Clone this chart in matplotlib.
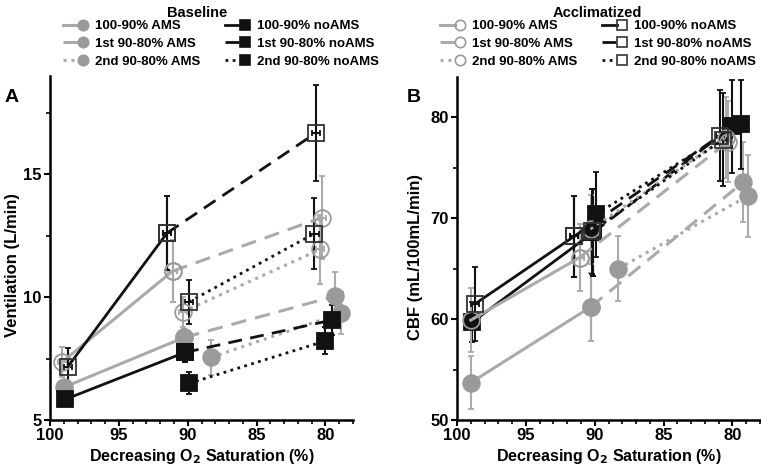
import matplotlib.pyplot as plt
from matplotlib.lines import Line2D
from matplotlib.legend_handler import HandlerBase
from matplotlib.ticker import MultipleLocator

plt.rcParams['font.family'] = ['Liberation Sans', 'DejaVu Sans']
plt.rcParams['font.weight'] = 'bold'

segments = ['100-90%', '1st 90-80%', '2nd 90-80%']

# Panel A: ventilation (L/min); each segment is [start, end] of O2 saturation
ve_base_ams_x = [[99.0, 90.25], [90.25, 79.3], [88.3, 78.9]]
ve_base_ams_y = [[6.33, 8.36], [8.36, 10.04], [7.55, 9.34]]
ve_base_ams_err = [[0.3, 0.35], [0.35, 1.0], [0.7, 0.85]]

ve_base_noams_x = [[98.9, 90.2], [90.2, 79.5], [89.9, 80.0]]
ve_base_noams_y = [[5.84, 7.75], [7.75, 9.07], [6.49, 8.22]]
ve_base_noams_err = [[0.25, 0.4], [0.4, 0.6], [0.45, 0.55]]

ve_accl_ams_x = [[99.1, 91.1], [91.1, 80.25], [90.35, 80.4]]
ve_accl_ams_y = [[7.37, 11.06], [11.06, 13.24], [9.40, 11.94]]
ve_accl_ams_err = [[0.6, 1.25], [1.25, 1.7], [0.6, 1.4]]

ve_accl_noams_x = [[98.7, 91.5], [91.5, 80.7], [89.9, 80.8]]
ve_accl_noams_y = [[7.17, 12.61], [12.61, 16.68], [9.81, 12.59]]
ve_accl_noams_err = [[0.75, 1.5], [1.5, 1.95], [0.9, 1.45]]

# Panel B: CBF (mL/100mL/min)
cbf_base_ams_x = [[99.0, 90.3], [90.3, 79.2], [88.3, 78.9]]
cbf_base_ams_y = [[53.7, 61.2], [61.2, 73.6], [65.0, 72.2]]
cbf_base_ams_err = [[2.65, 3.4], [3.4, 4.0], [3.2, 4.1]]

cbf_base_noams_x = [[98.9, 90.1], [90.1, 80.0], [89.9, 79.4]]
cbf_base_noams_y = [[59.7, 68.6], [68.6, 79.1], [70.4, 79.3]]
cbf_base_noams_err = [[2.0, 4.3], [4.3, 4.6], [4.2, 4.4]]

cbf_accl_ams_x = [[99.0, 91.1], [91.1, 80.3], [90.3, 80.5]]
cbf_accl_ams_y = [[59.9, 66.1], [66.1, 77.6], [68.9, 78.0]]
cbf_accl_ams_err = [[3.2, 3.3], [3.3, 4.0], [3.4, 4.0]]

cbf_accl_noams_x = [[98.7, 91.5], [91.5, 80.9], [90.2, 80.7]]
cbf_accl_noams_y = [[61.5, 68.2], [68.2, 78.2], [68.7, 77.8]]
cbf_accl_noams_err = [[3.7, 4.0], [4.0, 4.5], [4.2, 4.6]]

sat_xerr = 0.3

GREY_LINE = '#aaaaaa'
GREY_MARK = '#9a9a9a'
BLACK = '#111111'
linestyles = ['-', (0, (5, 3)), (0, (1, 1.6))]

styles = {
    'base_ams': dict(color=GREY_LINE, marker='o', ms=12, mfc=GREY_MARK, mec=GREY_MARK, lw=2.2),
    'base_noams': dict(color=BLACK, marker='s', ms=11, mfc=BLACK, mec=BLACK, lw=2.0),
    'accl_ams': dict(color=GREY_LINE, marker='o', ms=12, mfc='none', mec=GREY_MARK, lw=2.2),
    'accl_noams': dict(color=BLACK, marker='s', ms=11, mfc='none', mec='#333333', lw=2.0),
}


def draw_group(ax, xs, ys, errs, key):
    st = styles[key]
    for x, y, e, ls in zip(xs, ys, errs, linestyles):
        ax.errorbar(x, y, yerr=e, xerr=sat_xerr, color=st['color'], ls=ls, lw=st['lw'],
                    marker=st['marker'], ms=st['ms'], mfc=st['mfc'], mec=st['mec'],
                    mew=1.3, ecolor=st['color'], elinewidth=1.5, capsize=2, capthick=1.5)


class EndMarkerHandler(HandlerBase):
    # line with the marker only at its right end
    def create_artists(self, legend, orig, xd, yd, w, h, fs, trans):
        y = h / 2 - yd
        xm = -xd + w - 3
        r = orig.get_markersize() / 2
        line = Line2D([-xd, xm - r], [y, y])
        line.update_from(orig)
        line.set_marker('None')
        line.set_transform(trans)
        mk = Line2D([xm], [y])
        mk.update_from(orig)
        mk.set_linestyle('None')
        mk.set_transform(trans)
        return [line, mk]


fig = plt.figure(figsize=(7.61, 4.70), dpi=100)
axA = fig.add_axes([50 / 761, 50 / 470, 303 / 761, 344 / 470])
axB = fig.add_axes([457 / 761, 50 / 470, 303 / 761, 343 / 470])

draw_group(axA, ve_accl_ams_x, ve_accl_ams_y, ve_accl_ams_err, 'accl_ams')
draw_group(axA, ve_accl_noams_x, ve_accl_noams_y, ve_accl_noams_err, 'accl_noams')
draw_group(axA, ve_base_ams_x, ve_base_ams_y, ve_base_ams_err, 'base_ams')
draw_group(axA, ve_base_noams_x, ve_base_noams_y, ve_base_noams_err, 'base_noams')

draw_group(axB, cbf_base_ams_x, cbf_base_ams_y, cbf_base_ams_err, 'base_ams')
draw_group(axB, cbf_base_noams_x, cbf_base_noams_y, cbf_base_noams_err, 'base_noams')
draw_group(axB, cbf_accl_ams_x, cbf_accl_ams_y, cbf_accl_ams_err, 'accl_ams')
draw_group(axB, cbf_accl_noams_x, cbf_accl_noams_y, cbf_accl_noams_err, 'accl_noams')

for ax in (axA, axB):
    ax.set_xlim(100, 78)
    ax.set_xticks([100, 95, 90, 85, 80])
    ax.xaxis.set_minor_locator(MultipleLocator(1))
    for s in ('top', 'right'):
        ax.spines[s].set_visible(False)
    for s in ('left', 'bottom'):
        ax.spines[s].set_linewidth(1.8)
    ax.tick_params(which='major', direction='out', length=4, width=1.5, labelsize=12, pad=2)
    ax.tick_params(which='minor', direction='out', length=3, width=1.2)
    ax.set_xlabel('Decreasing O$_\\mathbf{2}$ Saturation (%)', fontsize=11.5, fontweight='bold', labelpad=3)

axA.set_ylim(5, 19)
axA.set_yticks([5, 10, 15])
axA.yaxis.set_minor_locator(MultipleLocator(2.5))
axA.set_ylabel('Ventilation (L/min)', fontsize=12, fontweight='bold')
axA.yaxis.set_label_coords(-0.1, 0.45)

axB.set_ylim(50, 84)
axB.set_yticks([50, 60, 70, 80])
axB.yaxis.set_minor_locator(MultipleLocator(5))
axB.set_ylabel('CBF (mL/100mL/min)', fontsize=12, fontweight='bold')
axB.yaxis.set_label_coords(-0.113, 0.475)

fig.text(5 / 761, 1 - 97 / 470, 'A', fontsize=14, fontweight='bold', va='center')
fig.text(407 / 761, 1 - 97 / 470, 'B', fontsize=14, fontweight='bold', va='center')

# legends
for key_pre, title, cx, tx in (('base', 'Baseline', 221, 197), ('accl', 'Acclimatized', 598, 597)):
    handles, labels = [], []
    for grp, name in (('ams', 'AMS'), ('noams', 'noAMS')):
        st = styles[key_pre + '_' + grp]
        for seg, ls in zip(segments, linestyles):
            handles.append(Line2D([], [], color=st['color'], ls=ls, lw=st['lw'], marker=st['marker'],
                                  ms=7.5 if st['marker'] == 'o' else 7, mfc=st['mfc'], mec=st['mec'],
                                  mew=1.2))
            labels.append(f'{seg} {name}')
    fig.legend(handles, labels, ncol=2, loc='upper center', bbox_to_anchor=(cx / 761, 1 - 20 / 470),
               frameon=False, handler_map={Line2D: EndMarkerHandler()},
               handlelength=1.8, handletextpad=0.6, columnspacing=1.9, labelspacing=0.42,
               borderpad=0, borderaxespad=0, prop=dict(weight='bold', size=9.5))
    fig.text(tx / 761, 1 - 13 / 470, title, fontsize=10.5, fontweight='bold', ha='center', va='center')

fig.savefig('out.png', dpi=100)
